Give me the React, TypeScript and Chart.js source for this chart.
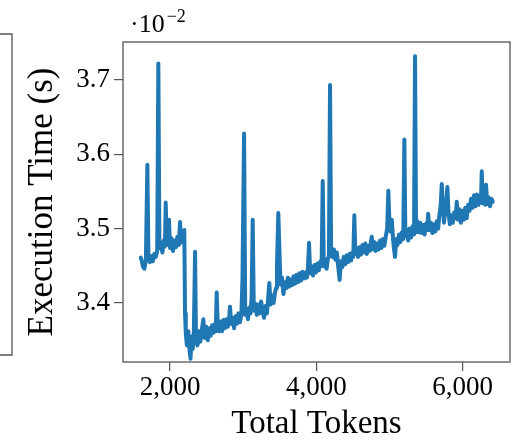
import { useEffect, useRef } from "react";
import { Chart, registerables } from "chart.js";

Chart.register(...registerables);

const tokens = [
  1600, 1615, 1630, 1650, 1670, 1690, 1705, 1725, 1745, 1765, 1785, 1805, 1825, 1840, 1855, 1875, 1895, 1915, 1930, 1941,
  1955, 1970, 1986, 2000, 2020, 2040, 2060, 2080, 2100, 2120, 2137, 2150, 2170, 2185, 2195, 2205, 2215, 2230, 2250, 2265,
  2280, 2295, 2310, 2325, 2342, 2355, 2375, 2395, 2415, 2435, 2455, 2475, 2495, 2515, 2535, 2555, 2575, 2595, 2615, 2625,
  2638, 2652, 2670, 2690, 2710, 2730, 2750, 2770, 2790, 2805, 2820, 2835, 2855, 2875, 2895, 2915, 2935, 2955, 2975, 2990,
  3012, 3028, 3045, 3065, 3085, 3100, 3115, 3130, 3145, 3165, 3185, 3205, 3225, 3245, 3265, 3285, 3305, 3325, 3340, 3357,
  3375, 3395, 3415, 3435, 3450, 3462, 3480, 3495, 3510, 3530, 3550, 3570, 3590, 3610, 3630, 3650, 3670, 3690, 3710, 3730,
  3750, 3770, 3790, 3810, 3830, 3850, 3870, 3885, 3900, 3915, 3935, 3955, 3975, 3995, 4015, 4035, 4055, 4072, 4087, 4102,
  4120, 4140, 4158, 4172, 4187, 4202, 4220, 4240, 4260, 4280, 4300, 4318, 4335, 4355, 4375, 4395, 4415, 4435, 4455, 4475,
  4492, 4505, 4519, 4533, 4550, 4570, 4590, 4610, 4630, 4650, 4670, 4690, 4710, 4730, 4745, 4757, 4772, 4790, 4810, 4830,
  4850, 4870, 4890, 4910, 4930, 4950, 4968, 4984, 5000, 5015, 5030, 5050, 5065, 5076, 5092, 5110, 5130, 5150, 5170, 5188,
  5203, 5217, 5235, 5255, 5275, 5295, 5315, 5335, 5349, 5363, 5380, 5400, 5420, 5440, 5460, 5480, 5500, 5515, 5528, 5545,
  5565, 5585, 5605, 5625, 5645, 5665, 5682, 5700, 5714, 5728, 5745, 5765, 5778, 5791, 5806, 5825, 5845, 5865, 5885, 5905,
  5919, 5935, 5955, 5975, 5995, 6015, 6035, 6055, 6075, 6095, 6115, 6135, 6155, 6175, 6195, 6215, 6235, 6250, 6261, 6275,
  6295, 6308, 6320, 6335, 6355, 6375, 6395, 6411,
];

const execTime = [
  3.461, 3.456, 3.449, 3.446, 3.458, 3.586, 3.459, 3.455, 3.463, 3.456, 3.466, 3.462, 3.470, 3.722, 3.474, 3.481, 3.468, 3.484, 3.476, 3.535,
  3.478, 3.488, 3.512, 3.474, 3.487, 3.470, 3.484, 3.475, 3.489, 3.478, 3.509, 3.481, 3.492, 3.484, 3.498, 3.386, 3.360, 3.343, 3.362, 3.338,
  3.325, 3.355, 3.338, 3.358, 3.469, 3.350, 3.343, 3.362, 3.348, 3.364, 3.378, 3.353, 3.368, 3.350, 3.366, 3.356, 3.370, 3.360, 3.372, 3.362,
  3.414, 3.370, 3.362, 3.375, 3.362, 3.377, 3.366, 3.378, 3.368, 3.376, 3.395, 3.372, 3.380, 3.366, 3.382, 3.372, 3.386, 3.374, 3.384, 3.431,
  3.628, 3.384, 3.392, 3.378, 3.394, 3.386, 3.408, 3.512, 3.390, 3.399, 3.384, 3.398, 3.386, 3.402, 3.390, 3.380, 3.396, 3.386, 3.404, 3.427,
  3.398, 3.410, 3.400, 3.414, 3.420, 3.451, 3.521, 3.471, 3.425, 3.434, 3.412, 3.428, 3.420, 3.434, 3.422, 3.432, 3.424, 3.436, 3.426, 3.438,
  3.428, 3.440, 3.430, 3.442, 3.433, 3.441, 3.434, 3.446, 3.481, 3.440, 3.449, 3.437, 3.451, 3.441, 3.453, 3.444, 3.456, 3.450, 3.564, 3.449,
  3.459, 3.446, 3.460, 3.462, 3.693, 3.468, 3.462, 3.472, 3.458, 3.468, 3.448, 3.431, 3.456, 3.448, 3.462, 3.452, 3.464, 3.455, 3.466, 3.457,
  3.468, 3.462, 3.518, 3.466, 3.474, 3.462, 3.475, 3.465, 3.478, 3.468, 3.480, 3.466, 3.477, 3.470, 3.482, 3.489, 3.472, 3.482, 3.470, 3.480,
  3.472, 3.484, 3.474, 3.486, 3.477, 3.490, 3.500, 3.551, 3.505, 3.496, 3.512, 3.484, 3.470, 3.462, 3.486, 3.478, 3.492, 3.482, 3.495, 3.486,
  3.620, 3.490, 3.499, 3.484, 3.500, 3.488, 3.503, 3.492, 3.732, 3.495, 3.510, 3.495, 3.508, 3.494, 3.505, 3.492, 3.507, 3.498, 3.520, 3.498,
  3.508, 3.494, 3.506, 3.496, 3.510, 3.500, 3.518, 3.532, 3.560, 3.530, 3.508, 3.528, 3.540, 3.556, 3.522, 3.506, 3.518, 3.508, 3.522, 3.514,
  3.536, 3.512, 3.526, 3.508, 3.524, 3.512, 3.528, 3.514, 3.532, 3.524, 3.540, 3.528, 3.545, 3.530, 3.546, 3.532, 3.544, 3.535, 3.577, 3.534,
  3.542, 3.532, 3.559, 3.533, 3.542, 3.530, 3.540, 3.536,
];

const xTicks = [2000, 4000, 6000];
const yTicks = [3.4, 3.5, 3.6, 3.7];
const xTitle = "Total Tokens";
const yTitle = "Execution Time (s)";
const exponentBase = "\u00B710";
const exponentPower = "\u22122";

const FONT = "'Liberation Serif', 'Times New Roman', serif";

export default function App() {
  const ref = useRef<HTMLCanvasElement>(null);

  useEffect(() => {
    const framePlugin = {
      id: "frame",
      afterDraw(chart: any) {
        const { ctx, chartArea } = chart;
        ctx.save();
        ctx.strokeStyle = "#555";
        ctx.lineWidth = 1.3;
        ctx.strokeRect(chartArea.left, chartArea.top, chartArea.right - chartArea.left, chartArea.bottom - chartArea.top);
        // neighbouring panel edge on the left
        ctx.beginPath();
        ctx.moveTo(0, 34);
        ctx.lineTo(12, 34);
        ctx.lineTo(12, 355);
        ctx.lineTo(0, 355);
        ctx.stroke();
        // exponent
        ctx.fillStyle = "#000";
        ctx.textBaseline = "alphabetic";
        ctx.textAlign = "left";
        ctx.font = `26px ${FONT}`;
        ctx.fillText(exponentBase, 130, 32);
        const w = ctx.measureText(exponentBase).width;
        ctx.font = `18px ${FONT}`;
        ctx.fillText(exponentPower, 130 + w + 2, 22);
        ctx.restore();
      },
    };

    const chart = new Chart(ref.current as HTMLCanvasElement, {
      type: "line",
      data: {
        datasets: [
          {
            data: tokens.map((x, i) => ({ x, y: execTime[i] })),
            borderColor: "#1f77b4",
            borderWidth: 4,
            pointRadius: 0,
            fill: false,
            tension: 0,
            borderJoinStyle: "round",
            borderCapStyle: "round",
          },
        ],
      },
      options: {
        responsive: false,
        animation: false,
        devicePixelRatio: 1,
        layout: { padding: { top: 42, right: 3, left: 0, bottom: 0 } },
        plugins: { legend: { display: false }, tooltip: { enabled: false } },
        scales: {
          x: {
            type: "linear",
            min: 1357,
            max: 6647,
            afterBuildTicks: (s: any) => {
              s.ticks = xTicks.map((v) => ({ value: v }));
            },
            afterFit: (s: any) => {
              s.height = 82;
            },
            ticks: {
              callback: (v: any) => Number(v).toLocaleString("en-US"),
              font: { family: FONT, size: 27 },
              color: "#000",
              padding: 1,
              maxRotation: 0,
              autoSkip: false,
            },
            grid: { display: true, drawOnChartArea: false, drawTicks: true, tickLength: 9, color: "#555", lineWidth: 1.2 },
            border: { display: false },
            title: { display: true, text: xTitle, font: { family: FONT, size: 33 }, color: "#000", padding: { top: 0, bottom: 0 } },
          },
          y: {
            type: "linear",
            min: 3.3206,
            max: 3.751,
            afterBuildTicks: (s: any) => {
              s.ticks = yTicks.map((v) => ({ value: v }));
            },
            afterFit: (s: any) => {
              s.width = 123;
            },
            ticks: {
              callback: (v: any) => Number(v).toFixed(1),
              font: { family: FONT, size: 27 },
              color: "#000",
              padding: 4,
              autoSkip: false,
            },
            grid: { display: true, drawOnChartArea: false, drawTicks: true, tickLength: 9, color: "#555", lineWidth: 1.2 },
            border: { display: false },
            title: { display: true, text: yTitle, font: { family: FONT, size: 35 }, color: "#000", padding: { top: 22, bottom: 0 } },
          },
        },
      },
      plugins: [framePlugin],
    } as any);

    return () => chart.destroy();
  }, []);

  return (
    <div style={{ position: "absolute", left: 0, top: 0, width: 513, height: 444, background: "#fff" }}>
      <canvas ref={ref} width={513} height={444} style={{ display: "block" }} />
    </div>
  );
}
